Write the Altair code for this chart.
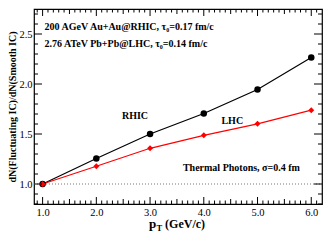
import altair as alt
import pandas as pd
import numpy as np

pt = [1.0, 2.0, 3.0, 4.0, 5.0, 6.0]
rhic = [1.0, 1.255, 1.50, 1.705, 1.945, 2.265]
lhc = [1.0, 1.177, 1.357, 1.487, 1.602, 1.738]

x_major = [1.0, 2.0, 3.0, 4.0, 5.0, 6.0]
x_medium = [1.5, 2.5, 3.5, 4.5, 5.5]
x_minor = [round(v, 1) for v in np.arange(0.9, 6.2, 0.1) if abs(v * 2 - round(v * 2)) > 1e-6]
y_major = [1.0, 1.5, 2.0, 2.5]
y_minor = [round(v, 1) for v in np.arange(0.8, 2.75, 0.1) if abs(v * 2 - round(v * 2)) > 1e-6]

W, H = 288, 195
FONT = "Liberation Serif"

xs = alt.Scale(domain=[0.84, 6.2], nice=False, zero=False)
ys = alt.Scale(domain=[0.8, 2.75], nice=False, zero=False)

df = pd.DataFrame({"pt": pt * 2, "r": rhic + lhc,
                   "s": ["RHIC"] * 6 + ["LHC"] * 6})

xaxis = alt.Axis(values=x_major, format=".1f", labelFont=FONT, labelFontSize=10.5,
                 labelColor="black", ticks=False, domain=False, grid=False,
                 title=None, labelPadding=3)
yaxis = alt.Axis(values=y_major, format=".1f", labelFont=FONT, labelFontSize=10.5,
                 labelColor="black", ticks=False, domain=False, grid=False,
                 title="dN(Fluctuating IC)/dN(Smooth IC)", titleFont=FONT,
                 titleFontSize=10, titleFontWeight="bold", titleColor="black",
                 titlePadding=1, labelPadding=2)

base = alt.Chart(df)

ref = alt.Chart(pd.DataFrame({"y": [1.0]})).mark_rule(
    color="#777777", strokeDash=[1, 2], strokeWidth=1
).encode(y=alt.Y("y:Q", scale=ys, axis=yaxis), x=alt.value(0), x2=alt.value(W))

rh = base.transform_filter(alt.datum.s == "RHIC")
lh = base.transform_filter(alt.datum.s == "LHC")

rline = rh.mark_line(color="black", strokeWidth=1.2).encode(
    x=alt.X("pt:Q", scale=xs, axis=xaxis), y=alt.Y("r:Q", scale=ys))
rpts = rh.mark_point(shape="circle", filled=True, color="black", size=42, opacity=1).encode(
    x=alt.X("pt:Q", scale=xs), y=alt.Y("r:Q", scale=ys))
lline = lh.mark_line(color="#ff0000", strokeWidth=1.2).encode(
    x=alt.X("pt:Q", scale=xs), y=alt.Y("r:Q", scale=ys))
lpts = lh.mark_point(shape="diamond", filled=True, color="#ff0000", size=36, opacity=1).encode(
    x=alt.X("pt:Q", scale=xs), y=alt.Y("r:Q", scale=ys))

def ticks_x(vals, L):
    d = alt.Chart(pd.DataFrame({"v": vals}))
    b = d.mark_rule(color="black", strokeWidth=1).encode(
        x=alt.X("v:Q", scale=xs), y=alt.value(H), y2=alt.value(H - L))
    t = d.mark_rule(color="black", strokeWidth=1).encode(
        x=alt.X("v:Q", scale=xs), y=alt.value(0), y2=alt.value(L))
    return [b, t]

def ticks_y(vals, L):
    d = alt.Chart(pd.DataFrame({"v": vals}))
    l = d.mark_rule(color="black", strokeWidth=1).encode(
        y=alt.Y("v:Q", scale=ys), x=alt.value(0), x2=alt.value(L))
    r = d.mark_rule(color="black", strokeWidth=1).encode(
        y=alt.Y("v:Q", scale=ys), x=alt.value(W), x2=alt.value(W - L))
    return [l, r]

tick_layers = (ticks_x(x_major, 7) + ticks_x(x_medium, 5) + ticks_x(x_minor, 3.5)
               + ticks_y(y_major, 8) + ticks_y(y_minor, 4))

ann_text = ["200 AGeV Au+Au@RHIC, τ₀=0.17 fm/c",
            "2.76 ATeV Pb+Pb@LHC, τ₀=0.14 fm/c"]
ann_x = [1.036, 1.036]
ann_y = [2.574, 2.40]
ann = alt.Chart(pd.DataFrame({"t": ann_text, "x": ann_x, "y": ann_y})).mark_text(
    align="left", baseline="middle", font=FONT, fontSize=10, fontWeight="bold", color="black"
).encode(x=alt.X("x:Q", scale=xs), y=alt.Y("y:Q", scale=ys), text="t:N")

lab_text = ["RHIC", "LHC", "Thermal Photons, σ=0.4 fm"]
lab_x = [2.72, 4.53, 4.70]
lab_y = [1.68, 1.63, 1.165]
labs = alt.Chart(pd.DataFrame({"t": lab_text, "x": lab_x, "y": lab_y})).mark_text(
    align="center", baseline="middle", font=FONT, fontSize=10, fontWeight="bold", color="black"
).encode(x=alt.X("x:Q", scale=xs), y=alt.Y("y:Q", scale=ys), text="t:N")

xt_p = alt.Chart(pd.DataFrame({"t": ["p"], "x": [2.98]})).mark_text(
    align="left", baseline="alphabetic", font=FONT, fontSize=13, fontWeight="bold", color="black"
).encode(x=alt.X("x:Q", scale=xs), y=alt.value(H + 24), text="t:N")
xt_T = alt.Chart(pd.DataFrame({"t": ["T"], "x": [3.12]})).mark_text(
    align="left", baseline="alphabetic", font=FONT, fontSize=8.5, fontWeight="bold", color="black"
).encode(x=alt.X("x:Q", scale=xs), y=alt.value(H + 27), text="t:N")
xt_u = alt.Chart(pd.DataFrame({"t": ["(GeV/c)"], "x": [3.28]})).mark_text(
    align="left", baseline="alphabetic", font=FONT, fontSize=12, fontWeight="bold", color="black"
).encode(x=alt.X("x:Q", scale=xs), y=alt.value(H + 24), text="t:N")

chart = alt.layer(
    ref, rline, lline, rpts, lpts, *tick_layers, ann, labs, xt_p, xt_T, xt_u
).properties(
    width=W, height=H,
    autosize=alt.AutoSizeParams(type="none"),
    padding={"left": 26, "top": 1, "right": 1, "bottom": 28},
    background="white",
).configure_view(stroke="black", strokeWidth=1.2
).configure_axis(labelFont=FONT, titleFont=FONT)

chart.save("out.html", embed_options={"renderer": "svg", "actions": False})
